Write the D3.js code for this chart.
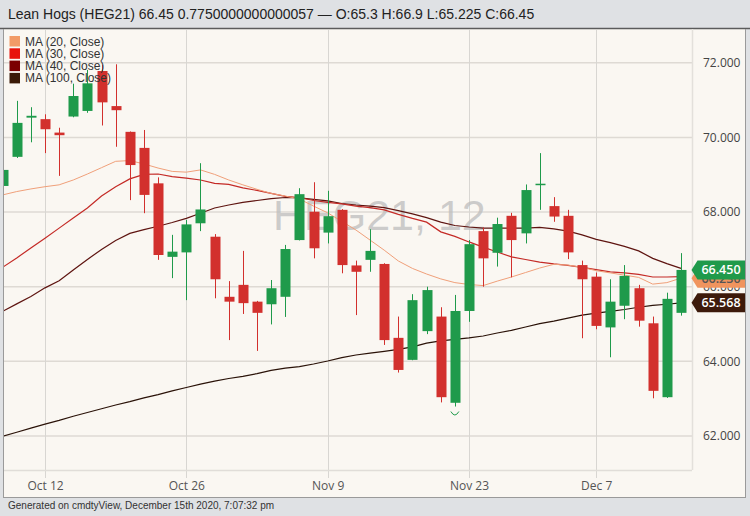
<!DOCTYPE html>
<html><head><meta charset="utf-8">
<script src="https://cdn.jsdelivr.net/npm/d3@7"></script>
<style>body{margin:0;background:#dfe1e4;}svg{display:block;}</style>
</head><body>
<svg id="c" width="750" height="516"></svg>
<script>
const dates = ["Oct 7","Oct 8","Oct 9","Oct 12","Oct 13","Oct 14","Oct 15","Oct 16","Oct 19","Oct 20","Oct 21","Oct 22","Oct 23","Oct 26","Oct 27","Oct 28","Oct 29","Oct 30","Nov 2","Nov 3","Nov 4","Nov 5","Nov 6","Nov 9","Nov 10","Nov 11","Nov 12","Nov 13","Nov 16","Nov 17","Nov 18","Nov 19","Nov 20","Nov 23","Nov 24","Nov 25","Nov 27","Nov 30","Dec 1","Dec 2","Dec 3","Dec 4","Dec 7","Dec 8","Dec 9","Dec 10","Dec 11","Dec 14","Dec 15"];
const open  = [68.70,69.48,70.53,70.49,70.13,70.56,70.71,71.78,70.84,70.15,69.72,68.77,66.80,66.92,67.70,67.34,65.73,66.05,65.60,65.53,65.73,67.25,68.01,67.45,68.06,66.57,66.72,66.61,64.63,64.04,64.81,65.20,62.89,65.35,67.49,66.91,67.90,67.43,68.73,68.16,67.90,66.58,66.27,64.91,65.49,65.96,65.02,63.04,65.30];
const high  = [69.15,70.98,70.81,70.62,70.26,71.44,71.81,71.94,71.96,70.16,70.20,68.93,67.39,67.79,69.31,67.41,66.15,66.96,65.62,66.18,67.12,68.64,68.80,68.57,68.08,66.70,67.54,66.63,65.20,65.80,66.00,65.45,65.78,67.25,67.59,67.85,67.98,68.74,69.58,68.40,68.06,66.70,66.38,66.20,66.58,66.05,65.20,65.84,66.90];
const low   = [68.68,69.45,69.87,69.58,68.97,70.54,70.66,70.32,69.75,68.32,67.97,66.72,66.23,65.64,67.49,65.69,64.57,65.27,64.28,64.99,65.19,67.24,66.76,67.16,66.36,65.24,66.40,64.44,63.70,64.03,64.73,62.90,62.79,65.06,66.00,66.54,66.25,67.16,68.06,67.74,66.74,64.62,64.86,64.11,65.13,64.93,63.01,63.02,65.225];
const close = [69.13,70.39,70.58,70.22,70.06,71.11,71.45,70.94,70.73,69.26,68.46,66.85,66.94,67.67,68.07,66.20,65.60,65.56,65.30,65.96,67.01,68.48,67.03,67.89,66.58,66.40,66.96,64.57,63.77,65.64,65.91,63.04,65.35,67.14,66.76,67.68,67.25,68.59,68.76,67.88,66.92,66.20,64.95,65.60,66.29,65.09,63.21,65.675,66.45];
const ma20  = [68.46,68.55,68.62,68.68,68.73,68.86,69.02,69.19,69.36,69.38,69.29,69.18,69.09,69.07,69.13,69.01,68.86,68.73,68.61,68.50,68.43,68.35,68.16,67.98,67.75,67.52,67.25,66.98,66.69,66.49,66.34,66.21,66.11,66.06,66.03,66.15,66.26,66.38,66.50,66.60,66.58,66.52,66.43,66.37,66.31,66.25,66.07,66.11,66.23];
const ma30  = [66.52,66.77,67.04,67.30,67.57,67.84,68.11,68.43,68.68,68.89,69.01,69.02,68.95,68.91,68.86,68.77,68.74,68.65,68.58,68.50,68.42,68.39,68.31,68.26,68.22,68.16,68.12,68.06,67.94,67.83,67.73,67.47,67.35,67.20,67.06,66.93,66.80,66.73,66.66,66.61,66.57,66.52,66.46,66.40,66.37,66.33,66.26,66.26,66.27];
const ma40  = [65.34,65.54,65.74,65.97,66.16,66.45,66.73,67.00,67.24,67.43,67.53,67.62,67.72,67.83,67.97,68.11,68.19,68.26,68.31,68.36,68.39,68.38,68.34,68.30,68.23,68.19,68.16,68.12,68.04,67.95,67.85,67.73,67.64,67.60,67.57,67.57,67.57,67.57,67.59,67.55,67.49,67.39,67.27,67.18,67.08,66.96,66.76,66.62,66.49];
const ma100 = [61.99,62.10,62.21,62.32,62.42,62.53,62.63,62.73,62.83,62.92,63.02,63.11,63.21,63.30,63.39,63.47,63.54,63.60,63.67,63.76,63.82,63.86,63.93,64.01,64.10,64.17,64.22,64.27,64.32,64.39,64.49,64.55,64.59,64.63,64.68,64.76,64.83,64.92,65.01,65.08,65.16,65.24,65.29,65.34,65.39,65.45,65.50,65.53,65.568];
const yTicks = [62,64,66,68,70,72];
const xTickLabels = ["Oct 12","Oct 26","Nov 9","Nov 23","Dec 7"];
const maNames = ["MA (20, Close)","MA (30, Close)","MA (40, Close)","MA (100, Close)"];
const maColors = ["#f29b67","#e8130b","#7b0000","#3b1a08"];
const maLineColors = ["#f0a07a","#c42a26","#5e1410","#2a1208"];
const headerText = "Lean Hogs (HEG21) 66.45 0.7750000000000057 \u2014 O:65.3 H:66.9 L:65.225 C:66.45";
const footerText = "Generated on cmdtyView, December 15th 2020, 7:07:32 pm";
const watermark = "HEG21, 12";
const markerDate = "Nov 20";

const svg = d3.select("#c");
const W = 750, H = 516;
const plot = {l:4, r:692, t:30, b:470};
const green = "#1f9a4b", red = "#d2302d";

const x = d3.scaleLinear().domain([0, dates.length-1]).range([2.6, 681]);
const y = d3.scaleLinear().domain([62, 72]).range([436, 62.8]);

// backgrounds
svg.append("rect").attr("width",W).attr("height",H).attr("fill","#dfe1e4");
svg.append("rect").attr("x",plot.l).attr("y",29).attr("width",741).attr("height",468).attr("fill","#faf7f2");
svg.append("line").attr("x1",0).attr("x2",W).attr("y1",28.5).attr("y2",28.5).attr("stroke","#5b5b5b").attr("stroke-width",1.5);
svg.append("line").attr("x1",plot.l-0.5).attr("x2",plot.l-0.5).attr("y1",29).attr("y2",497).attr("stroke","#9a9a9a");
svg.append("line").attr("x1",745.5).attr("x2",745.5).attr("y1",29).attr("y2",497).attr("stroke","#9a9a9a");
svg.append("line").attr("x1",plot.l-1).attr("x2",746).attr("y1",497.5).attr("y2",497.5).attr("stroke","#9a9a9a");

// header
svg.append("text").attr("x",8).attr("y",19).text(headerText)
  .attr("font-family","'Liberation Sans', Arial, sans-serif").attr("font-size",14).attr("fill","#222");
svg.append("text").attr("x",8).attr("y",509).text(footerText)
  .attr("font-family","'Liberation Sans', Arial, sans-serif").attr("font-size",10).attr("fill","#333");

// grid
const tickIdx = xTickLabels.map(l => dates.indexOf(l));
const grid = svg.append("g");
grid.selectAll("line.h").data(yTicks).join("line")
  .attr("x1",plot.l).attr("x2",plot.r).attr("y1",d=>y(d)).attr("y2",d=>y(d))
  .attr("stroke","#dedad4").attr("stroke-width",1.5);
grid.selectAll("line.v").data(tickIdx).join("line")
  .attr("x1",d=>Math.round(x(d))+0.5).attr("x2",d=>Math.round(x(d))+0.5).attr("y1",plot.t).attr("y2",478)
  .attr("stroke","#d8d6d2").attr("stroke-width",1);
svg.append("line").attr("x1",plot.l).attr("x2",plot.r).attr("y1",470.5).attr("y2",470.5).attr("stroke","#e0ddd8").attr("stroke-width",1.5);
svg.append("line").attr("x1",plot.r+0.5).attr("x2",plot.r+0.5).attr("y1",29).attr("y2",470).attr("stroke","#e3e0db").attr("stroke-width",1.5);

// watermark
svg.append("text").attr("x",273).attr("y",230).text(watermark)
  .attr("font-family","'Liberation Sans', Arial, sans-serif").attr("font-size",43)
  .attr("fill","#bdbdbd").attr("fill-opacity",0.75);

// clip
svg.append("clipPath").attr("id","clip").append("rect")
  .attr("x",plot.l).attr("y",plot.t).attr("width",plot.r-plot.l).attr("height",plot.b-plot.t);
const g = svg.append("g").attr("clip-path","url(#clip)");

// MA lines
[ma100, ma40, ma30, ma20].forEach((arr,k) => {
  const ci = 3-k;
  g.append("path").datum(arr)
    .attr("d", d3.line().x((d,i)=>x(i)).y(d=>y(d)))
    .attr("fill","none").attr("stroke",maLineColors[ci]).attr("stroke-width", ci===0?1:1.2);
});

// candles
const bw = 10;
const cg = g.selectAll("g.c").data(dates.map((d,i)=>i)).join("g");
cg.append("line").attr("x1",i=>Math.round(x(i))+0.5).attr("x2",i=>Math.round(x(i))+0.5)
  .attr("y1",i=>y(high[i])).attr("y2",i=>y(low[i]))
  .attr("stroke",i=>close[i]>=open[i]?green:red).attr("stroke-width",1);
cg.append("rect").attr("x",i=>Math.round(x(i))+0.5-bw/2).attr("width",bw)
  .attr("y",i=>y(Math.max(open[i],close[i])))
  .attr("height",i=>Math.max(1.5, Math.abs(y(open[i])-y(close[i]))))
  .attr("fill",i=>close[i]>=open[i]?green:red);

// marker under candle
const mi = dates.indexOf(markerDate);
g.append("path").attr("d", `M${x(mi)-4},${y(low[mi])+5} Q${x(mi)},${y(low[mi])+12} ${x(mi)+4},${y(low[mi])+5}`)
  .attr("fill","none").attr("stroke",green).attr("stroke-width",1);

// y axis labels
const ya = svg.append("g").attr("transform",`translate(${plot.r},0)`)
  .call(d3.axisRight(y).tickValues(yTicks).tickFormat(d3.format(".3f")).tickSize(0).tickPadding(11));
ya.select(".domain").remove();
ya.selectAll("text").attr("font-family","'Open Sans', sans-serif").attr("font-size",12).attr("fill","#444");

// x axis labels
const xa = svg.append("g").attr("transform",`translate(0,${478})`)
  .call(d3.axisBottom(x).tickValues(tickIdx).tickFormat(i=>dates[i]).tickSize(0).tickPadding(3));
xa.select(".domain").remove();
xa.selectAll("text").attr("font-family","'Open Sans', sans-serif").attr("font-size",12).attr("fill","#555");

// legend
const lg = svg.append("g");
maNames.forEach((n,k)=>{
  lg.append("rect").attr("x",9.5).attr("y",36+k*12.3).attr("width",10.5).attr("height",10.5).attr("fill",maColors[k]);
  lg.append("text").attr("x",25).attr("y",45.5+k*12.3).text(n)
    .attr("font-family","'Liberation Sans', Arial, sans-serif").attr("font-size",12).attr("fill","#333");
});

// price tags
function tag(v, fill, txtFill){
  const cy = y(v), h = 19, x0 = plot.r - 0.5, xb = x0 + 6;
  const t = svg.append("g");
  t.append("path").attr("d",`M${x0},${cy} L${xb},${cy-h/2} L745,${cy-h/2} L745,${cy+h/2} L${xb},${cy+h/2} Z`).attr("fill",fill);
  t.append("text").attr("x",721).attr("y",cy+4.5).attr("text-anchor","middle").text(d3.format(".3f")(v))
    .attr("font-family","'Open Sans', sans-serif").attr("font-weight",600).attr("font-size",12.5).attr("fill",txtFill);
}
tag(ma20[ma20.length-1], "#f0945e", "#555");
tag(ma100[ma100.length-1], "#3d1a0b", "#fff");
tag(close[close.length-1], "#1f9a4b", "#fff");
</script>
</body></html>
